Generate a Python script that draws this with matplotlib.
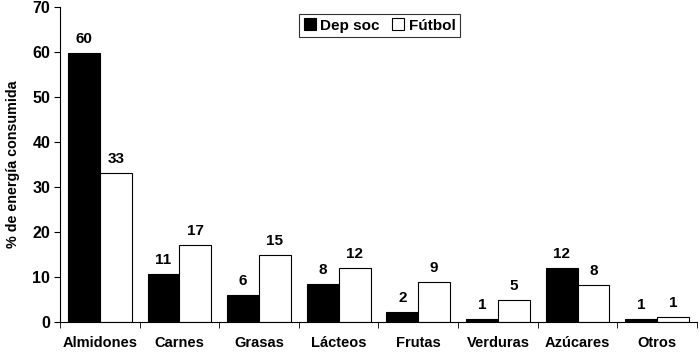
import numpy as np
import matplotlib.pyplot as plt
from matplotlib.ticker import FixedLocator

plt.rcParams['font.family'] = ['Liberation Sans', 'DejaVu Sans']
plt.rcParams['font.weight'] = 'bold'

## data
categorias = ["Almidones", "Carnes", "Grasas", "Lácteos", "Frutas", "Verduras", "Azúcares", "Otros"]
dep_soc = [59.8, 10.7, 6.0, 8.4, 2.2, 0.7, 12.0, 0.6]
futbol = [33.1, 17.1, 14.9, 12.0, 8.9, 4.9, 8.2, 1.1]
etiq_dep = [60, 11, 6, 8, 2, 1, 12, 1]
etiq_fut = [33, 17, 15, 12, 9, 5, 8, 1]

## plot
fig = plt.figure(figsize=(7, 3.56), dpi=100)
ax = fig.add_axes([0.0857, 0.0955, 0.91, 0.885])

x = np.arange(len(categorias))
w = 0.4
ax.bar(x - w/2, dep_soc, w, color="black", edgecolor="black", linewidth=0.8, label="Dep soc")
ax.bar(x + w/2, futbol, w, color="white", edgecolor="black", linewidth=0.8, label="Fútbol")

for i in range(len(x)):
    ax.text(x[i] - w/2, dep_soc[i] + 1.6, str(etiq_dep[i]), ha="center", va="bottom", fontsize=11, weight="bold")
    ax.text(x[i] + w/2, futbol[i] + 1.6, str(etiq_fut[i]), ha="center", va="bottom", fontsize=11, weight="bold")

ax.set_xlim(-0.5, len(x) - 0.5)
ax.set_ylim(0, 70)
ax.set_yticks(range(0, 71, 10))
ax.set_xticks(x)
ax.set_xticklabels(categorias, fontsize=10.5, weight="bold")
ax.tick_params(axis="x", which="major", length=0, pad=10)
ax.xaxis.set_minor_locator(FixedLocator(np.arange(-0.5, len(x), 1)))
ax.tick_params(axis="x", which="minor", length=4, direction="out")
ax.tick_params(axis="y", length=4, labelsize=11.5, pad=3)
for lab in ax.get_yticklabels():
    lab.set_fontweight("bold")
ax.set_ylabel("% de energía consumida", fontsize=10.3, weight="bold", labelpad=9)

ax.spines["top"].set_visible(False)
ax.spines["right"].set_visible(False)

leg = ax.legend(loc="upper center", bbox_to_anchor=(0.502, 0.978), ncol=2, frameon=True, fancybox=False,
                fontsize=11, handlelength=0.8, handleheight=0.8, columnspacing=0.8, handletextpad=0.3,
                borderpad=0.3, borderaxespad=0)
leg.get_frame().set_edgecolor("black")
leg.get_frame().set_linewidth(0.8)

plt.savefig("out.png", dpi=100)
